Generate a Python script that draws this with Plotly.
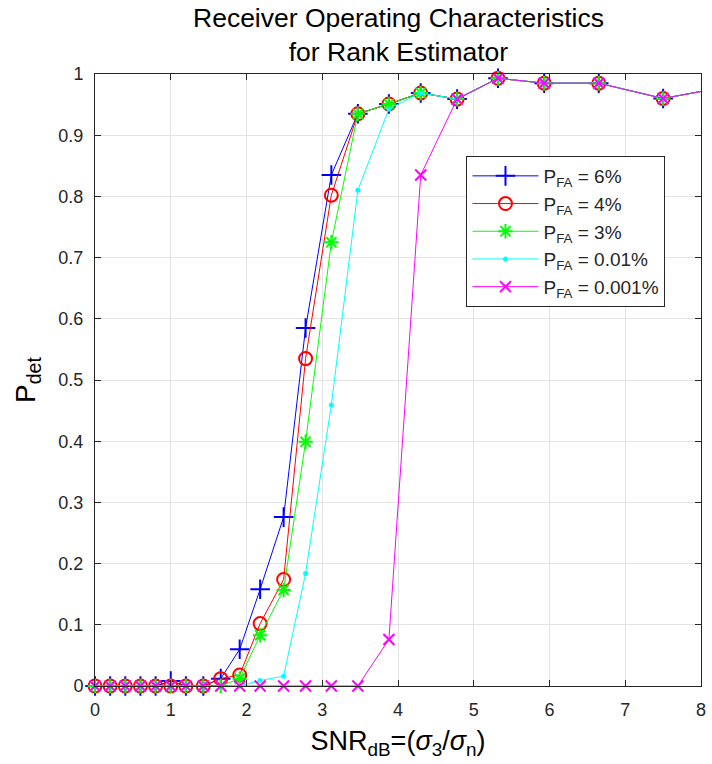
import plotly.graph_objects as go

# SNR in dB (x positions of the samples)
snr_db = [0, 0.2, 0.4, 0.6, 0.8, 1.0, 1.2, 1.43, 1.66, 1.91, 2.18, 2.49, 2.78,
          3.12, 3.47, 3.88, 4.30, 4.78, 5.32, 5.93, 6.65, 7.50, 8.50]

pd_6 = [0, 0, 0, 0, 0, 0.008, 0, 0, 0.012, 0.060, 0.158, 0.276, 0.585,
        0.835, 0.935, 0.951, 0.969, 0.959, 0.993, 0.985, 0.985, 0.960, 0.983]
pd_4 = [0, 0, 0, 0, 0, 0, 0, 0, 0.012, 0.018, 0.102, 0.174, 0.535,
        0.802, 0.935, 0.951, 0.969, 0.959, 0.993, 0.985, 0.985, 0.960, 0.983]
pd_3 = [0, 0, 0, 0, 0, 0, 0, 0, 0, 0.012, 0.083, 0.157, 0.399,
        0.725, 0.935, 0.951, 0.969, 0.959, 0.993, 0.985, 0.985, 0.960, 0.983]
pd_001 = [0, 0, 0, 0, 0, 0, 0, 0, 0, 0, 0.009, 0.016, 0.184,
          0.459, 0.810, 0.943, 0.969, 0.959, 0.993, 0.985, 0.985, 0.960, 0.983]
pd_0001 = [0, 0, 0, 0, 0, 0, 0, 0, 0, 0, 0, 0, 0,
           0, 0, 0.076, 0.835, 0.959, 0.993, 0.985, 0.985, 0.960, 0.983]

names = ["P<sub>FA</sub> = 6%", "P<sub>FA</sub> = 4%", "P<sub>FA</sub> = 3%",
         "P<sub>FA</sub> = 0.01%", "P<sub>FA</sub> = 0.001%"]
series = [pd_6, pd_4, pd_3, pd_001, pd_0001]
colors = ["#0000ff", "#ff0000", "#00ff00", "#00ffff", "#ff00ff"]
symbols = ["cross-thin-open", "circle-open", "asterisk-open", "circle", "x-thin-open"]
sizes = [14, 13, 12, 5, 11]
mlw = [2, 2, 2, 0, 2]

FONT = "Liberation Sans, Arial, sans-serif"

fig = go.Figure()
for nm, ys, c, s, sz, w in zip(names, series, colors, symbols, sizes, mlw):
    fig.add_trace(go.Scatter(
        x=snr_db, y=ys, name=nm, mode="lines+markers",
        line=dict(color=c, width=1),
        marker=dict(symbol=s, size=sz, color=c, line=dict(color=c, width=w)),
        cliponaxis=False,
    ))

axis_common = dict(
    showline=True, linecolor="#262626", linewidth=1, mirror="ticks",
    ticks="inside", ticklen=6, tickcolor="#262626",
    showgrid=True, gridcolor="#e3e3e3", gridwidth=1,
    zeroline=False, ticklabelstandoff=7,
    tickfont=dict(family=FONT, size=18, color="#262626"),
)

fig.update_layout(
    width=712, height=764,
    margin=dict(l=95, r=6, t=74, b=78),
    paper_bgcolor="white", plot_bgcolor="white",
    font=dict(family=FONT, color="#000000"),
    xaxis=dict(range=[0, 8], dtick=1, tick0=0,
               title=dict(text="SNR<sub>dB</sub>=(<i>σ</i><sub>3</sub>/<i>σ</i><sub>n</sub>)",
                          font=dict(size=27, color="#000000"), standoff=12),
               **axis_common),
    yaxis=dict(range=[0, 1], dtick=0.1, tick0=0,
               title=dict(text="P<sub>det</sub>", font=dict(size=28, color="#000000"), standoff=14),
               **axis_common),
    legend=dict(
        x=0.613, y=0.866, xanchor="left", yanchor="top",
        bgcolor="white", bordercolor="#262626", borderwidth=1,
        font=dict(size=19, color="#262626"),
        itemwidth=66, tracegroupgap=0,
    ),
    showlegend=True,
    annotations=[dict(
        text="Receiver Operating Characteristics<br>for Rank Estimator",
        xref="paper", yref="paper", x=0.5, y=1, xanchor="center", yanchor="bottom",
        yshift=5, showarrow=False, align="center",
        font=dict(family=FONT, size=26.5, color="#000000"),
    )],
)

fig.write_html("out.html")
